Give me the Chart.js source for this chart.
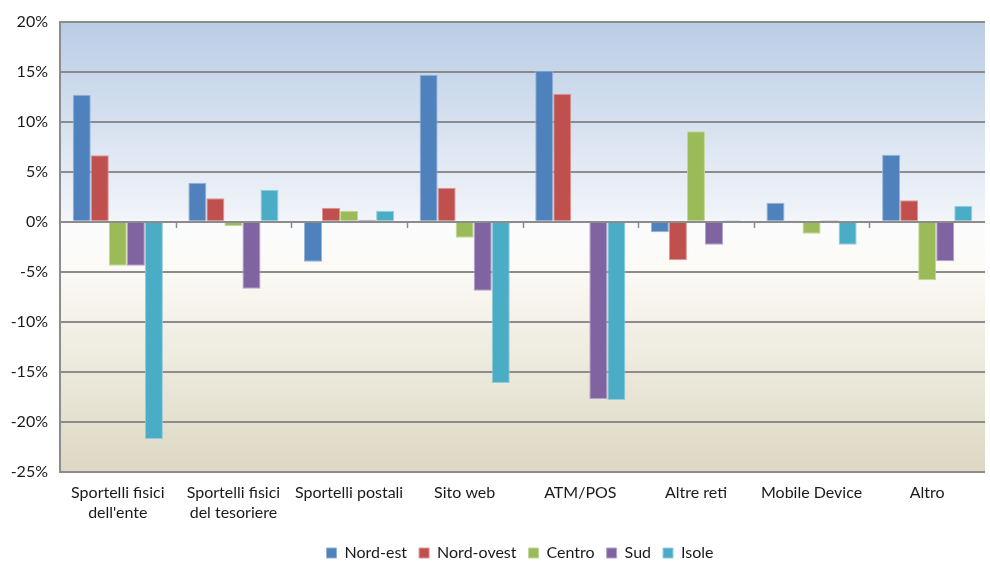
<!DOCTYPE html>
<html lang="it">
<head>
<meta charset="UTF-8">
<title>Variazioni per canale e area</title>
<script src="https://cdn.jsdelivr.net/npm/chart.js"></script>
<style>
    html, body { margin: 0; padding: 0; background: #fff; }
    #wrap { width: 990px; height: 561px; }
</style>
</head>
<body>
<div id="wrap"><canvas id="grafico" width="990" height="561"></canvas></div>
<script>
// categorie (canali) e serie per area geografica, valori in %
const canali = [
    ['Sportelli fisici', "dell'ente"],
    ['Sportelli fisici', 'del tesoriere'],
    'Sportelli postali',
    'Sito web',
    'ATM/POS',
    'Altre reti',
    'Mobile Device',
    'Altro'
];
const nordEst   = [12.7, 3.9, -4.0, 14.7, 15.1, -1.05, 1.9, 6.7];
const nordOvest = [6.65, 2.35, 1.4, 3.4, 12.8, -3.85, 0.05, 2.15];
const centro    = [-4.4, -0.45, 1.1, -1.6, 0.1, 9.05, -1.2, -5.85];
const sud       = [-4.4, -6.7, 0.2, -6.9, -17.7, -2.3, 0.15, -3.95];
const isole     = [-21.7, 3.2, 1.1, -16.1, -17.8, 0.15, -2.3, 1.6];

const aree   = ['Nord-est', 'Nord-ovest', 'Centro', 'Sud', 'Isole'];
const serie  = [nordEst, nordOvest, centro, sud, isole];
const colori = ['#4f81bd', '#c0504d', '#9bbb59', '#8064a2', '#4bacc6'];
const bordi  = ['#95b3d7', '#d99795', '#c3d69b', '#b3a2c7', '#93cddd'];

// sfondo sfumato dell'area del grafico: azzurro sopra lo zero, beige sotto
const sfondo = {
    id: 'sfondo',
    // legenda centrata sull'area del grafico, non sull'intera tela
    afterLayout(chart) {
        const shift = (chart.chartArea.left + chart.chartArea.right - chart.width) / 2;
        chart.legend.left += shift;
        chart.legend.right += shift;
    },
    beforeDraw(chart) {
        const { ctx, chartArea: a, scales } = chart;
        const z = (scales.y.getPixelForValue(0) - a.top) / (a.bottom - a.top);
        const g = ctx.createLinearGradient(0, a.top, 0, a.bottom);
        g.addColorStop(0, '#b9cde5');
        g.addColorStop(z - 0.01, '#f1f4f9');
        g.addColorStop(z + 0.01, '#fbfcfd');
        g.addColorStop(z + 0.1, '#fbfaf5');
        g.addColorStop(1, '#ddd8c3');
        ctx.save();
        ctx.fillStyle = g;
        ctx.fillRect(a.left, a.top, a.right - a.left, a.bottom - a.top);
        ctx.restore();
    },
    // asse delle categorie sullo zero, con le tacche tra i gruppi
    afterDatasetsDraw(chart) {
        const { ctx, chartArea: a, scales } = chart;
        const y0 = Math.round(scales.y.getPixelForValue(0));
        ctx.save();
        ctx.strokeStyle = '#8c8c8c';
        ctx.lineWidth = 2;
        ctx.beginPath();
        ctx.moveTo(a.left, y0);
        ctx.lineTo(a.right, y0);
        ctx.stroke();
        ctx.lineWidth = 1.5;
        for (let i = 1; i < canali.length; i++) {
            const x = Math.round((scales.x.getPixelForValue(i - 1) + scales.x.getPixelForValue(i)) / 2) + 0.5;
            ctx.beginPath();
            ctx.moveTo(x, y0);
            ctx.lineTo(x, y0 + 6);
            ctx.stroke();
        }
        ctx.restore();
    }
};

new Chart(document.getElementById('grafico'), {
    type: 'bar',
    data: {
        labels: canali,
        datasets: aree.map((nome, i) => ({
            label: nome,
            data: serie[i],
            backgroundColor: colori[i],
            borderColor: bordi[i],
            borderWidth: 1,
            categoryPercentage: 0.78,
            barPercentage: 1
        }))
    },
    options: {
        responsive: false,
        animation: false,
        layout: { padding: { top: 10, right: 5, left: 0, bottom: -10 } },
        plugins: {
            tooltip: { enabled: false },
            legend: {
                position: 'bottom',
                labels: {
                    boxWidth: 10,
                    boxHeight: 10,
                    padding: 12,
                    color: '#1a1a1a',
                    font: { family: 'Lato', size: 16 }
                }
            }
        },
        scales: {
            x: {
                grid: { display: false, drawTicks: false },
                border: { display: false },
                ticks: {
                    color: '#1a1a1a',
                    padding: 10,
                    maxRotation: 0,
                    autoSkip: false,
                    font: { family: 'Lato', size: 16, lineHeight: 1.3 }
                },
                afterFit(scale) { scale.height = 61; }
            },
            y: {
                min: -25,
                max: 20,
                ticks: {
                    stepSize: 5,
                    color: '#1a1a1a',
                    padding: 12,
                    font: { family: 'Lato', size: 16 },
                    callback: v => v + '%'
                },
                grid: { color: '#8c8c8c', lineWidth: 2, drawTicks: false },
                border: { color: '#8c8c8c', width: 2 },
                afterFit(scale) { scale.width = 60; }
            }
        }
    },
    plugins: [sfondo]
});
</script>
</body>
</html>
